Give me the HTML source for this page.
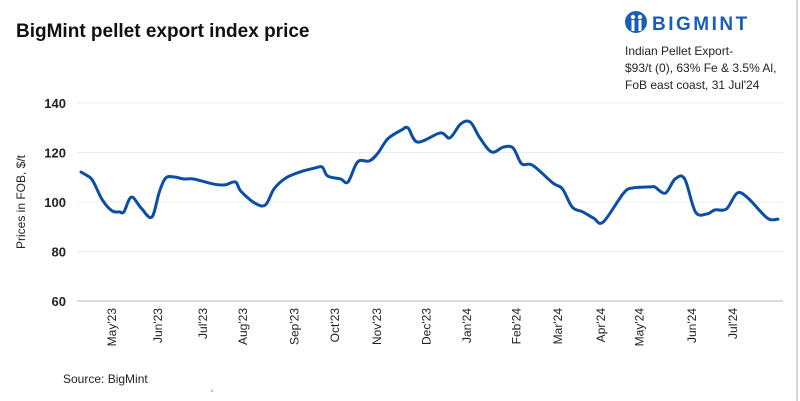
<!DOCTYPE html>
<html><head><meta charset="utf-8"><style>
body{margin:0;background:#fff;font-family:"Liberation Sans",sans-serif;}
#wrap{position:relative;width:800px;height:401px;overflow:hidden;}
</style></head><body>
<div id="wrap">
<svg id="chart" width="800" height="401">
  <line x1="797" y1="0" x2="797" y2="401" stroke="#c8c8c8" stroke-width="1.5"/>
  <text x="16" y="37" font-size="19" font-weight="bold" fill="#111">BigMint pellet export index price</text>
  <g>
    <circle cx="636" cy="22" r="11" fill="#1a5db8"/>
    <circle cx="633" cy="17" r="2.2" fill="#fff"/><circle cx="640" cy="17" r="2.2" fill="#fff"/>
    <rect x="631.5" y="20" width="3" height="11" fill="#fff"/><rect x="638.5" y="20" width="3" height="11" fill="#fff"/>
    <text x="652" y="30" font-size="19" font-weight="bold" fill="#1a5db8" letter-spacing="2.5">BIGMINT</text>
  </g>
  <g font-size="12" fill="#222">
    <text x="625" y="55">Indian Pellet Export-</text>
    <text x="625" y="72">$93/t (0), 63% Fe &amp; 3.5% Al,</text>
    <text x="625" y="89">FoB east coast,  31 Jul'24</text>
  </g>
  <text transform="translate(25,202) rotate(-90)" text-anchor="middle" font-size="12" fill="#222">Prices in FOB, $/t</text>
  <g id="grid"></g><g id="xlab"></g><g id="line"></g>
  <text x="63" y="383" font-size="12" fill="#222">Source: BigMint</text>
  <circle cx="212" cy="391" r="1.2" fill="#bbb"/>
</svg>
</div>
<script>
const weeks=[0,0.9,1.3,2,2.9,3.6,4,4.7,5.6,6.6,7.3,7.9,8.7,9.6,10.5,12.3,13.4,14.4,14.9,16.2,17.2,18,19.1,20.4,21.8,22.5,23,24.2,24.9,25.8,26.9,27.7,28.6,29.9,30.5,31.4,33.5,34.4,35.4,36.3,37.2,38.3,39.4,40.3,41.1,42.1,44,44.9,45.8,46.8,47.8,48.7,50.6,51.5,53.1,53.5,54.5,55.4,56.3,57.3,58.4,59.1,60.2,61.2,62.2,64,65];
const prices=[112.1,109.7,106.9,100.8,96.4,96,96,102,97.6,93.9,104,109.7,110.1,109.3,109.3,107.3,106.9,108.1,104.4,99.6,98.8,105.3,109.7,112.1,113.7,114.1,110.5,109.3,108.1,116.2,116.6,119.8,125.5,129.1,129.9,124.2,127.9,125.9,131.5,132.3,125.9,120.2,122.2,121.8,115.4,114.9,107.7,105.3,98,96,93.5,91.9,103.6,105.7,106.1,106.1,103.6,109.3,109.3,96,95.2,96.8,97.2,103.6,101.6,93.5,93.1];
const monthLabels=["May'23","Jun'23","Jul'23","Aug'23","Sep'23","Oct'23","Nov'23","Dec'23","Jan'24","Feb'24","Mar'24","Apr'24","May'24","Jun'24","Jul'24"];
const monthWeeks=[2.9,7.2,11.4,15.1,19.9,23.7,27.6,32.2,36,40.6,44.5,48.5,52.1,57,60.8];
const yTicks=[60,80,100,120,140];
const NS="http://www.w3.org/2000/svg";
const X0=81,X1=778,WMAX=65;
const xs=w=>X0+w*(X1-X0)/WMAX;
const ys=v=>301-(v-60)*(198/80);
const grid=document.getElementById('grid');
yTicks.forEach(t=>{
  const l=document.createElementNS(NS,'line');
  l.setAttribute('x1',77);l.setAttribute('x2',783);l.setAttribute('y1',ys(t));l.setAttribute('y2',ys(t));
  l.setAttribute('stroke',t===60?'#cfcfcf':'#ececec');l.setAttribute('stroke-width',t===60?1.5:1);
  
  
  grid.appendChild(l);
  const tx=document.createElementNS(NS,'text');
  tx.setAttribute('x',66);tx.setAttribute('y',ys(t)+5);tx.setAttribute('text-anchor','end');
  tx.setAttribute('font-size',13);tx.setAttribute('font-weight','bold');tx.setAttribute('fill','#222');
  tx.textContent=t;
  
  
  grid.appendChild(tx);
});
const xl=document.getElementById('xlab');
monthLabels.forEach((m,i)=>{
  const tx=document.createElementNS(NS,'text');
  const x=xs(monthWeeks[i])+4;
  tx.setAttribute('transform','translate('+x+',308) rotate(-90)');
  tx.setAttribute('text-anchor','end');tx.setAttribute('font-size',12);tx.setAttribute('fill','#222');
  tx.textContent=m;
  
  
  xl.appendChild(tx);
});
const pts=weeks.map((w,i)=>[xs(w),ys(prices[i])]);
let d='M'+pts[0][0]+','+pts[0][1];
for(let i=0;i<pts.length-1;i++){
  const p0=pts[i-1]||pts[i],p1=pts[i],p2=pts[i+1],p3=pts[i+2]||p2;
  const k=1/6;
  d+=' C'+(p1[0]+(p2[0]-p0[0])*k)+','+(p1[1]+(p2[1]-p0[1])*k)+' '+(p2[0]-(p3[0]-p1[0])*k)+','+(p2[1]-(p3[1]-p1[1])*k)+' '+p2[0]+','+p2[1];
}
const path=document.createElementNS(NS,'path');
path.setAttribute('d',d);path.setAttribute('fill','none');path.setAttribute('stroke','#0b4ea2');
path.setAttribute('stroke-width',3);path.setAttribute('stroke-linejoin','round');path.setAttribute('stroke-linecap','round');


document.getElementById('line').appendChild(path);
</script>
</body></html>
